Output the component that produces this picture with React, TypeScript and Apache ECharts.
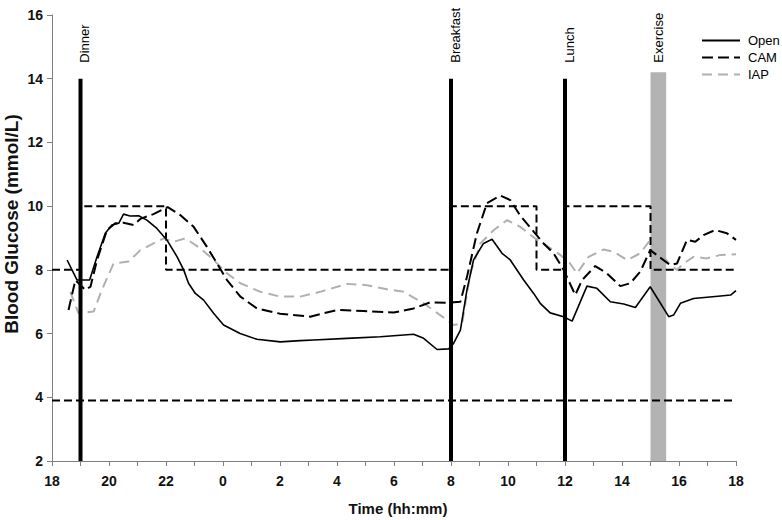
import React, { useEffect, useRef } from "react";
import * as echarts from "echarts";

// ---- Data (hours counted from 18:00 on day 1; 24 = midnight, 42 = 18:00 next day) ----
const openTimes = [18.53, 18.88, 19.32, 19.58, 19.87, 20.1, 20.34, 20.51, 20.74, 21.04, 21.33, 21.68, 22.03, 22.39, 22.62, 22.79, 23.03, 23.32, 23.67, 24.02, 24.6, 25.19, 26.01, 26.71, 27.18, 28.35, 29.52, 30.69, 31.04, 31.51, 31.92, 32.09, 32.33, 32.56, 32.79, 33.14, 33.44, 33.79, 34.08, 34.55, 34.9, 35.13, 35.48, 35.95, 36.25, 36.77, 37.12, 37.59, 38.06, 38.47, 38.99, 39.64, 39.81, 40.05, 40.51, 41.46, 41.81, 42.0];
const openValues = [8.31, 7.68, 7.68, 8.41, 9.15, 9.41, 9.46, 9.75, 9.69, 9.7, 9.56, 9.3, 8.94, 8.41, 8.0, 7.58, 7.26, 7.05, 6.64, 6.27, 6.0, 5.82, 5.74, 5.78, 5.8, 5.85, 5.9, 5.98, 5.85, 5.5, 5.52, 5.69, 6.11, 7.37, 8.31, 8.83, 8.96, 8.52, 8.31, 7.68, 7.26, 6.95, 6.65, 6.53, 6.39, 7.49, 7.42, 7.0, 6.93, 6.82, 7.47, 6.53, 6.58, 6.95, 7.1, 7.18, 7.21, 7.35];

const camTimes = [18.58, 18.82, 19.17, 19.35, 19.58, 19.93, 20.22, 20.51, 20.86, 21.1, 21.56, 22.06, 22.5, 22.97, 23.43, 23.79, 24.14, 24.61, 25.19, 26.01, 27.06, 28.0, 28.93, 29.99, 30.69, 31.27, 31.86, 32.33, 32.56, 32.91, 33.26, 33.73, 34.08, 34.43, 34.9, 35.25, 35.6, 35.95, 36.36, 36.6, 37.06, 37.47, 37.94, 38.29, 38.64, 38.99, 39.69, 39.93, 40.28, 40.57, 40.86, 41.27, 41.68, 42.0];
const camValues = [6.74, 7.68, 7.37, 7.47, 8.31, 9.25, 9.46, 9.48, 9.41, 9.6, 9.75, 9.97, 9.72, 9.35, 8.73, 8.2, 7.68, 7.16, 6.79, 6.62, 6.53, 6.74, 6.71, 6.66, 6.79, 6.98, 6.97, 7.0, 7.78, 9.15, 10.09, 10.33, 10.19, 9.7, 9.2, 8.83, 8.52, 8.0, 7.21, 7.68, 8.12, 7.89, 7.49, 7.58, 7.94, 8.62, 8.15, 8.2, 8.94, 8.88, 9.09, 9.25, 9.15, 8.94];

const iapTimes = [18.64, 18.93, 19.46, 19.75, 20.16, 20.69, 21.1, 21.56, 21.92, 22.27, 22.68, 23.2, 23.67, 24.14, 24.61, 25.31, 26.01, 26.71, 27.41, 28.35, 29.05, 29.75, 30.34, 31.04, 31.62, 32.09, 32.39, 32.68, 33.03, 33.5, 33.97, 34.43, 35.02, 35.48, 35.83, 36.13, 36.42, 36.83, 37.36, 37.71, 38.18, 38.64, 38.99, 39.69, 39.93, 40.16, 40.51, 40.98, 41.46, 42.0];
const iapValues = [7.31, 6.64, 6.69, 7.37, 8.2, 8.26, 8.62, 8.83, 8.99, 8.88, 8.99, 8.68, 8.31, 7.89, 7.58, 7.31, 7.16, 7.16, 7.31, 7.56, 7.52, 7.39, 7.31, 6.95, 6.58, 6.27, 6.32, 7.89, 8.83, 9.25, 9.56, 9.35, 8.94, 8.68, 8.47, 8.26, 7.89, 8.41, 8.64, 8.57, 8.31, 8.52, 8.94, 8.15, 8.0, 8.2, 8.41, 8.36, 8.47, 8.49];

// Target range (upper bound is a step line, lower bound constant)
const targetTimes = [18, 19, 22, 32, 35, 36, 39, 42];
const targetUpper = [8, 10, 8, 10, 8, 10, 8, 8];
const targetLower = 3.9;

// Events
const mealNames = ["Dinner", "Breakfast", "Lunch"];
const mealTimes = [19, 32, 36];
const exerciseName = "Exercise";
const exerciseSpan = [39, 39.55];

const xMin = 18;
const xMax = 42;
const yMin = 2;
const yMax = 16;
const eventTop = 14;
const exerciseTop = 14.2;

const FONT = "'Liberation Sans', Arial, sans-serif";

const zip = (t: number[], v: number[]) => t.map((x, i) => [x, v[i]]);

export default function App() {
  const ref = useRef<HTMLDivElement>(null);

  useEffect(() => {
    if (!ref.current) return;
    const chart = echarts.init(ref.current, null, { renderer: "svg" });

    const axisCommon = {
      axisLine: { show: true, lineStyle: { color: "#7f7f7f", width: 1 } },
      axisTick: { show: true, length: 5, lineStyle: { color: "#7f7f7f" } },
      splitLine: { show: false },
    };

    const mealSeries = mealTimes.map((t, i) => ({
      type: "line",
      name: mealNames[i],
      data: [
        [t, yMin],
        [t, eventTop],
      ],
      symbol: "none",
      silent: true,
      lineStyle: { color: "#000", width: 4 },
      z: 8,
    }));

    chart.setOption({
      animation: false,
      backgroundColor: "#fff",
      grid: { left: 52, right: 46, top: 15, bottom: 59, containLabel: false },
      legend: {
        data: ["Open", "CAM", "IAP"],
        orient: "vertical",
        left: 701,
        top: 34,
        padding: 0,
        itemWidth: 38,
        itemHeight: 13,
        itemGap: 4,
        itemStyle: { opacity: 0, borderWidth: 0 },
        textStyle: { fontFamily: FONT, fontSize: 13, color: "#000", padding: [0, 0, 0, 3] },
      },
      xAxis: {
        type: "value",
        min: xMin,
        max: xMax,
        interval: 1,
        ...axisCommon,
        axisLabel: {
          fontFamily: FONT,
          fontWeight: "bold",
          fontSize: 14,
          color: "#111",
          margin: 13,
          showMinLabel: true,
          showMaxLabel: true,
          formatter: (v: number) => (v % 2 === 0 ? String(v % 24) : ""),
        },
      },
      yAxis: {
        type: "value",
        min: yMin,
        max: yMax,
        interval: 2,
        ...axisCommon,
        axisLabel: {
          fontFamily: FONT,
          fontWeight: "bold",
          fontSize: 14,
          color: "#111",
          margin: 9,
        },
      },
      series: [
        {
          type: "line",
          name: "Target",
          data: zip(targetTimes, targetUpper),
          step: "end",
          symbol: "none",
          silent: true,
          lineStyle: { color: "#000", width: 2, type: [8, 4] },
          z: 2,
        },
        {
          type: "line",
          name: "Hypo",
          data: [
            [xMin, targetLower],
            [xMax, targetLower],
          ],
          symbol: "none",
          silent: true,
          lineStyle: { color: "#000", width: 2, type: [8, 4] },
          z: 2,
        },
        {
          type: "line",
          name: "IAP",
          data: zip(iapTimes, iapValues),
          symbol: "none",
          lineStyle: { color: "#b0b0b0", width: 2, type: [10, 6] },
          itemStyle: { color: "#b0b0b0" },
          z: 3,
        },
        {
          type: "line",
          name: "CAM",
          data: zip(camTimes, camValues),
          symbol: "none",
          lineStyle: { color: "#000", width: 2, type: [11, 5] },
          itemStyle: { color: "#000" },
          z: 4,
        },
        {
          type: "line",
          name: "Open",
          data: zip(openTimes, openValues),
          symbol: "none",
          lineStyle: { color: "#000", width: 1.6 },
          itemStyle: { color: "#000" },
          z: 5,
        },
        ...mealSeries,
        {
          type: "line",
          name: exerciseName,
          data: [],
          symbol: "none",
          silent: true,
          z: 10,
          markArea: {
            silent: true,
            itemStyle: { color: "#b3b3b3", opacity: 1 },
            data: [
              [
                { xAxis: exerciseSpan[0], yAxis: yMin },
                { xAxis: exerciseSpan[1], yAxis: exerciseTop },
              ],
            ],
          },
        },
      ],
    });

    const toPx = (x: number, y: number) =>
      chart.convertToPixel({ xAxisIndex: 0, yAxisIndex: 0 }, [x, y]) as number[];

    const topPx = toPx(xMin, eventTop)[1];
    const labelY = topPx - 16;
    const eventLabels = [
      ...mealTimes.map((t, i) => ({ x: toPx(t, eventTop)[0] + 4, text: mealNames[i] })),
      { x: toPx((exerciseSpan[0] + exerciseSpan[1]) / 2, eventTop)[0], text: exerciseName },
    ];
    const leftPx = toPx(xMin, yMin);
    const rightPx = toPx(xMax, yMax);

    chart.setOption({
      graphic: [
        ...eventLabels.map((l) => ({
          type: "text",
          x: l.x,
          y: labelY,
          rotation: Math.PI / 2,
          silent: true,
          style: {
            text: l.text,
            fontFamily: FONT,
            fontSize: 13,
            fill: "#000",
            align: "left",
            verticalAlign: "middle",
          },
        })),
        {
          type: "text",
          x: 11,
          y: 224,
          rotation: Math.PI / 2,
          silent: true,
          style: {
            text: "Blood Glucose (mmol/L)",
            fontFamily: FONT,
            fontWeight: "bold",
            fontSize: 19,
            fill: "#111",
            align: "center",
            verticalAlign: "middle",
          },
        },
        {
          type: "text",
          x: (leftPx[0] + rightPx[0]) / 2 + 4,
          y: 508,
          silent: true,
          style: {
            text: "Time (hh:mm)",
            fontFamily: FONT,
            fontWeight: "bold",
            fontSize: 15,
            fill: "#111",
            align: "center",
            verticalAlign: "middle",
          },
        },
      ],
    });

    return () => chart.dispose();
  }, []);

  return (
    <div
      ref={ref}
      style={{ position: "fixed", left: 0, top: 0, width: 782, height: 520, background: "#fff" }}
    />
  );
}
